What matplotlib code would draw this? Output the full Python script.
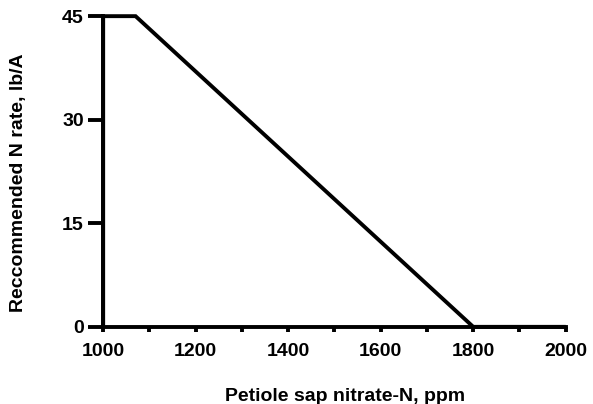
import matplotlib.pyplot as plt

# Recommendation curve: N rate vs petiole sap nitrate-N
sap_nitrate = [1000, 1000, 1070, 1800, 2000]
n_rate = [0, 45, 45, 0, 0]

x_ticks = [1000, 1100, 1200, 1300, 1400, 1500, 1600, 1700, 1800, 1900, 2000]
x_labels = ['1000', '', '1200', '', '1400', '', '1600', '', '1800', '', '2000']
y_ticks = [0, 15, 30, 45]

plt.rcParams['font.family'] = ['Liberation Sans', 'DejaVu Sans']
plt.rcParams['font.weight'] = 'bold'

fig = plt.figure(figsize=(5.93, 4.04), dpi=100)
ax = fig.add_axes([0.174, 0.191, 0.780, 0.769])

ax.plot(sap_nitrate, n_rate, color='black', linewidth=2.8, solid_capstyle='butt',
        solid_joinstyle='miter', clip_on=False)

ax.set_xlim(1000, 2000)
ax.set_ylim(0, 45)
ax.set_xticks(x_ticks)
ax.set_xticklabels(x_labels)
ax.set_yticks(y_ticks)

for side in ['top', 'right']:
    ax.spines[side].set_visible(False)
for side in ['left', 'bottom']:
    ax.spines[side].set_linewidth(2.8)

ax.tick_params(axis='x', direction='out', length=3.8, width=2.8, labelsize=14, pad=7.5)
ax.tick_params(axis='y', direction='out', length=11, width=2.8, labelsize=14, pad=3)

ax.set_xlabel('Petiole sap nitrate-N, ppm', fontsize=14, fontweight='bold')
ax.set_ylabel('Reccommended N rate, lb/A', fontsize=14, fontweight='bold')
ax.xaxis.set_label_coords(0.522, -0.196)
ax.yaxis.set_label_coords(-0.165, 0.463)

fig.savefig('out.png', dpi=100)
